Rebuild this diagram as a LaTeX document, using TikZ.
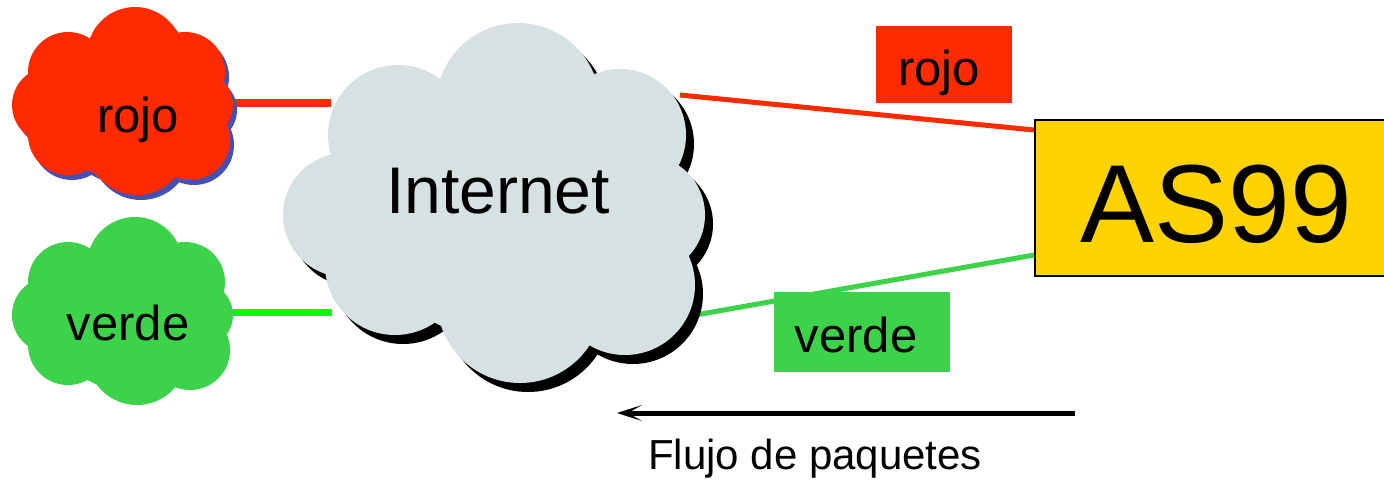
\documentclass[tikz,border=0pt]{standalone}
\usepackage{fontspec}
\setmainfont{Liberation Sans}
\usetikzlibrary{arrows.meta}
\definecolor{cred}{HTML}{FF2A00}
\definecolor{cblue}{HTML}{4650B4}
\definecolor{cgreen}{HTML}{3CD24A}
\definecolor{clime}{HTML}{00FF00}
\definecolor{cgray}{HTML}{D6E2E2}
\definecolor{cyellow}{HTML}{FFD300}
\tikzset{
  lbl/.style={font=\fontsize{49}{55}\selectfont, inner sep=0pt, text depth=0pt},
  tagbox/.style={lbl, minimum width=#1},
}
\begin{document}
\begin{tikzpicture}[x=1pt,y=-1pt]
\useasboundingbox (0,0) rectangle (1384,482);
\clip (0,0) rectangle (1384,482);
% connector end points
\coordinate (rojoE) at (232,103);
\coordinate (inetRW) at (331,103);
\coordinate (verdeE) at (232,312);
\coordinate (inetGW) at (332,312);
\coordinate (inetRE) at (680,95);
\coordinate (inetGE) at (690,316);
% AS99 box
\node[draw=black, line width=2pt, fill=cyellow, minimum width=362pt, minimum height=156pt,
      inner sep=0pt, text height=88pt, text depth=0pt,
      font=\fontsize{111}{120}\selectfont] (as) at (1216,198) {AS99};
% connectors
\draw[cred, line width=8pt] (rojoE) -- (inetRW);
\draw[clime, line width=7pt] (verdeE) -- (inetGW);
\draw[cred, line width=5pt] (inetRE) -- (as.west |- 0,130);
\draw[cgreen, line width=5pt] (inetGE) -- (as.west |- 0,255);
% red cloud with blue shadow
\begin{scope}[shift={(4,5)}]
\foreach \x/\y/\r in {135/55/48, 68/72/40, 185/72/40, 200/105/33, 190/140/40, 137/145/50, 68/135/40, 50/105/38, 125/105/75}
  \fill[cblue] (\x,\y) circle[radius=\r];
\end{scope}
\foreach \x/\y/\r in {135/55/48, 68/72/40, 185/72/40, 200/105/33, 190/140/40, 137/145/50, 68/135/40, 50/105/38, 125/105/75}
  \fill[cred] (\x,\y) circle[radius=\r];
% green cloud
\begin{scope}[shift={(0,210)}]
\foreach \x/\y/\r in {135/55/48, 68/72/40, 185/72/40, 200/105/33, 190/140/40, 137/145/50, 68/135/40, 50/105/38, 125/105/75}
  \fill[cgreen] (\x,\y) circle[radius=\r];
\end{scope}
% Internet cloud with black shadow
\begin{scope}[shift={(8,9)}]
\foreach \x/\y/\r in {518/105/82, 398/135/70, 620/135/66, 645/215/60, 625/285/70, 520/300/83, 395/265/70, 345/215/62, 500/210/130}
  \fill[black] (\x,\y) circle[radius=\r];
\end{scope}
\foreach \x/\y/\r in {518/105/82, 398/135/70, 620/135/66, 645/215/60, 625/285/70, 520/300/83, 395/265/70, 345/215/62, 500/210/130}
  \fill[cgray] (\x,\y) circle[radius=\r];
% cloud texts
\node[lbl, anchor=base] (rojo) at (138,132) {rojo};
\node[lbl, anchor=base] (verde) at (128,340) {verde};
\node[inner sep=0pt, anchor=base, font=\fontsize{66}{72}\selectfont] (inet) at (498,213) {Internet};
% tag boxes
\node[tagbox=136pt, fill=cred, minimum height=77pt, text height=41pt] (rojotag) at (944,64.5) {rojo\hspace*{10pt}};
\node[tagbox=176pt, fill=cgreen, minimum height=80pt, text height=40pt] (verdetag) at (862,332) {verde\hspace*{12pt}};
% flow arrow
\coordinate (flowR) at (1075,413);
\coordinate (flowL) at (617,413);
\draw[line width=5pt, -{Stealth[length=25pt, width=16pt, inset=14pt]}] (flowR) -- (flowL);
\node[inner sep=0pt, anchor=base, font=\fontsize{42}{50}\selectfont] (flujo) at (815,469) {Flujo de paquetes};
\end{tikzpicture}
\end{document}
